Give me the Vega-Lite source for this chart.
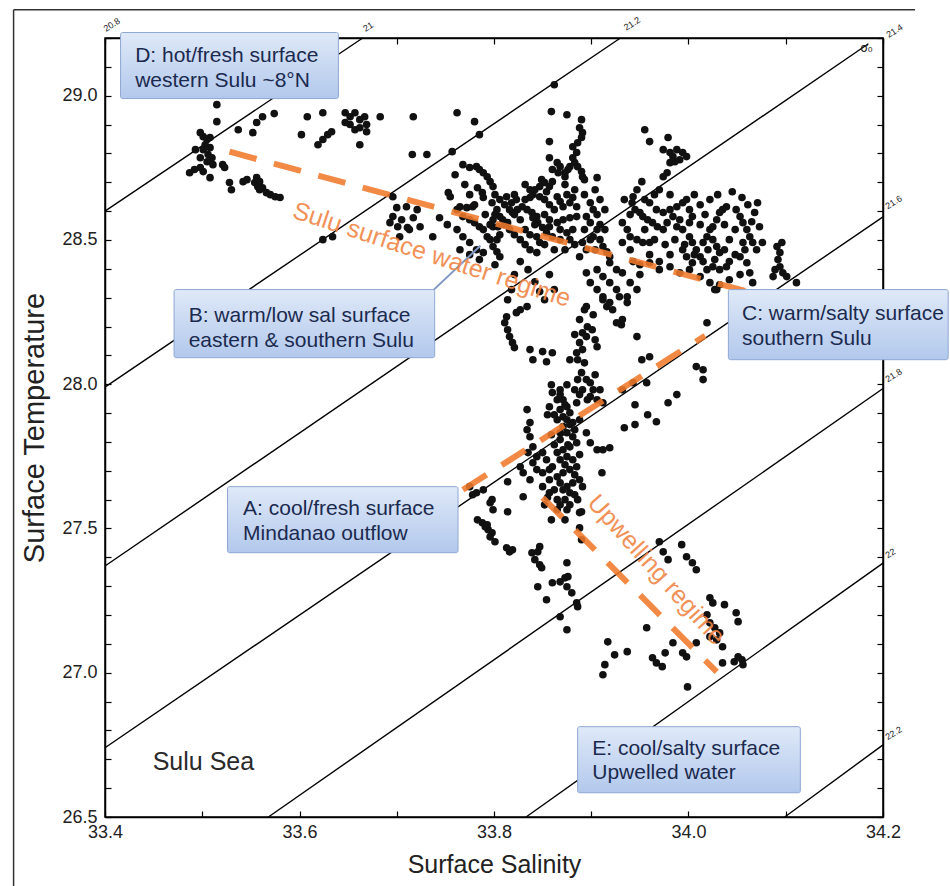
{
  "$schema": "https://vega.github.io/schema/vega-lite/v6.json",
  "width": 778,
  "height": 779,
  "autosize": "none",
  "padding": {"left": 105, "top": 38, "right": 67, "bottom": 69},
  "background": "white",
  "config": {"view": {"stroke": "black", "strokeWidth": 1.5}, "font": "Liberation Sans"},
  "datasets": {
    "iso": [
      {"sigma": 21.0, "s1": 33.4, "t1": 28.60, "s2": 33.665, "t2": 29.2},
      {"sigma": 21.2, "s1": 33.4, "t1": 27.99, "s2": 33.930, "t2": 29.2},
      {"sigma": 21.4, "s1": 33.4, "t1": 27.37, "s2": 34.185, "t2": 29.18},
      {"sigma": 21.6, "s1": 33.4, "t1": 26.74, "s2": 34.2, "t2": 28.58},
      {"sigma": 21.8, "s1": 33.568, "t1": 26.5, "s2": 34.2, "t2": 27.985},
      {"sigma": 22.0, "s1": 33.833, "t1": 26.5, "s2": 34.2, "t2": 27.38},
      {"sigma": 22.2, "s1": 34.099, "t1": 26.5, "s2": 34.2, "t2": 26.75}
    ],
    "isolabels": [
      {"s": 33.402, "t": 29.215, "label": "20.8"},
      {"s": 33.669, "t": 29.215, "label": "21"},
      {"s": 33.937, "t": 29.219, "label": "21.2"},
      {"s": 34.207, "t": 29.194, "label": "21.4"},
      {"s": 34.206, "t": 28.60, "label": "21.6"},
      {"s": 34.206, "t": 28.00, "label": "21.8"},
      {"s": 34.206, "t": 27.39, "label": "22"},
      {"s": 34.206, "t": 26.76, "label": "22.2"}
    ],
    "frame": [
      {"s1": 33.306, "t1": 29.298, "s2": 34.233, "t2": 29.298},
      {"s1": 33.306, "t1": 29.298, "s2": 33.306, "t2": 26.2}
    ],
    "regimes": [
      {"name": "Sulu surface water regime", "s1": 33.528, "t1": 28.806, "s2": 34.065, "t2": 28.317},
      {"name": "A to C", "s1": 33.768, "t1": 27.634, "s2": 34.017, "t2": 28.168},
      {"name": "Upwelling regime", "s1": 33.850, "t1": 27.607, "s2": 34.029, "t2": 27.003}
    ],
    "boxes": [
      {"id": "D", "s1": 33.416, "s2": 33.640, "t1": 29.219, "t2": 28.990},
      {"id": "B", "s1": 33.471, "s2": 33.739, "t1": 28.328, "t2": 28.092},
      {"id": "C", "s1": 34.041, "s2": 34.267, "t1": 28.328, "t2": 28.085},
      {"id": "A", "s1": 33.526, "s2": 33.763, "t1": 27.645, "t2": 27.416},
      {"id": "E", "s1": 33.886, "s2": 34.115, "t1": 26.813, "t2": 26.584}
    ],
    "boxtext": [
      {"s": 33.431, "t": 29.118, "text": "D: hot/fresh surface"},
      {"s": 33.431, "t": 29.031, "text": "western Sulu ~8°N"},
      {"s": 33.486, "t": 28.217, "text": "B: warm/low sal surface"},
      {"s": 33.486, "t": 28.130, "text": "eastern & southern Sulu"},
      {"s": 34.055, "t": 28.224, "text": "C: warm/salty surface"},
      {"s": 34.055, "t": 28.137, "text": "southern Sulu"},
      {"s": 33.542, "t": 27.548, "text": "A: cool/fresh surface"},
      {"s": 33.542, "t": 27.461, "text": "Mindanao outflow"},
      {"s": 33.901, "t": 26.715, "text": "E: cool/salty surface"},
      {"s": 33.901, "t": 26.632, "text": "Upwelled water"}
    ],
    "connector": [
      {"s1": 33.736, "t1": 28.321, "s2": 33.786, "t2": 28.480}
    ],
    "pts": [
      {"s":33.515,"t":28.969},{"s":33.515,"t":28.910},{"s":33.537,"t":28.882},{"s":33.552,"t":28.872},{"s":33.556,"t":28.907},{"s":33.562,"t":28.927},{"s":33.574,"t":28.938},
      {"s":33.498,"t":28.872},{"s":33.501,"t":28.858},{"s":33.505,"t":28.848},{"s":33.503,"t":28.830},{"s":33.508,"t":28.820},{"s":33.501,"t":28.813},{"s":33.506,"t":28.796},{"s":33.510,"t":28.785},{"s":33.498,"t":28.785},{"s":33.505,"t":28.771},{"s":33.511,"t":28.761},{"s":33.493,"t":28.813},{"s":33.508,"t":28.855},
      {"s":33.487,"t":28.733},{"s":33.492,"t":28.744},{"s":33.498,"t":28.751},{"s":33.501,"t":28.737},{"s":33.508,"t":28.716},{"s":33.521,"t":28.761},{"s":33.523,"t":28.751},{"s":33.528,"t":28.699},{"s":33.530,"t":28.674},{"s":33.542,"t":28.702},{"s":33.546,"t":28.709},
      {"s":33.554,"t":28.699},{"s":33.557,"t":28.685},{"s":33.559,"t":28.674},{"s":33.562,"t":28.681},{"s":33.566,"t":28.664},{"s":33.570,"t":28.657},{"s":33.575,"t":28.650},{"s":33.580,"t":28.647},{"s":33.556,"t":28.716},{"s":33.559,"t":28.702},
      {"s":33.602,"t":28.865},{"s":33.608,"t":28.927},{"s":33.624,"t":28.941},{"s":33.619,"t":28.830},{"s":33.624,"t":28.848},{"s":33.629,"t":28.865},{"s":33.633,"t":28.875},
      {"s":33.647,"t":28.941},{"s":33.652,"t":28.927},{"s":33.657,"t":28.941},{"s":33.662,"t":28.917},{"s":33.667,"t":28.927},{"s":33.669,"t":28.900},{"s":33.652,"t":28.900},{"s":33.657,"t":28.882},{"s":33.662,"t":28.889},{"s":33.647,"t":28.907},{"s":33.669,"t":28.875},
      {"s":33.662,"t":28.830},{"s":33.683,"t":28.927},{"s":33.717,"t":28.927},{"s":33.716,"t":28.796},{"s":33.731,"t":28.796},{"s":33.757,"t":28.806},{"s":33.762,"t":28.941},{"s":33.780,"t":28.910},{"s":33.785,"t":28.865},{"s":33.753,"t":28.664},{"s":33.696,"t":28.650},
      {"s":33.700,"t":28.612},{"s":33.710,"t":28.615},{"s":33.721,"t":28.605},{"s":33.696,"t":28.581},{"s":33.705,"t":28.570},{"s":33.717,"t":28.577},{"s":33.693,"t":28.560},{"s":33.701,"t":28.546},{"s":33.711,"t":28.543},{"s":33.724,"t":28.546},{"s":33.703,"t":28.511},{"s":33.713,"t":28.536},
      {"s":33.737,"t":28.511},{"s":33.744,"t":28.577},{"s":33.752,"t":28.553},{"s":33.634,"t":28.511},{"s":33.624,"t":28.501},{"s":33.765,"t":28.615},{"s":33.772,"t":28.612},{"s":33.778,"t":28.615},{"s":33.803,"t":28.501},{"s":33.799,"t":28.546},
      {"s":33.862,"t":29.038},{"s":33.859,"t":28.945},{"s":33.875,"t":28.934},{"s":33.890,"t":28.917},{"s":33.888,"t":28.889},{"s":33.891,"t":28.872},{"s":33.890,"t":28.855},{"s":33.886,"t":28.837},{"s":33.881,"t":28.823},{"s":33.885,"t":28.803},{"s":33.881,"t":28.785},{"s":33.883,"t":28.768},{"s":33.878,"t":28.754},{"s":33.876,"t":28.744},{"s":33.873,"t":28.733},{"s":33.886,"t":28.754},{"s":33.890,"t":28.737},
      {"s":33.857,"t":28.841},{"s":33.857,"t":28.785},{"s":33.865,"t":28.768},{"s":33.868,"t":28.754},{"s":33.860,"t":28.744},{"s":33.866,"t":28.733},{"s":33.873,"t":28.719},{"s":33.891,"t":28.719},{"s":33.893,"t":28.709},{"s":33.906,"t":28.716},
      {"s":33.768,"t":28.761},{"s":33.775,"t":28.751},{"s":33.782,"t":28.754},{"s":33.785,"t":28.744},{"s":33.789,"t":28.733},{"s":33.793,"t":28.719},{"s":33.796,"t":28.702},{"s":33.799,"t":28.685},{"s":33.783,"t":28.681},{"s":33.788,"t":28.664},{"s":33.789,"t":28.647},
      {"s":33.849,"t":28.709},{"s":33.852,"t":28.699},{"s":33.847,"t":28.685},{"s":33.842,"t":28.674},{"s":33.840,"t":28.657},{"s":33.837,"t":28.647},{"s":33.847,"t":28.650},{"s":33.854,"t":28.667},{"s":33.857,"t":28.685},{"s":33.860,"t":28.702},
      {"s":33.865,"t":28.650},{"s":33.868,"t":28.633},{"s":33.875,"t":28.657},{"s":33.881,"t":28.647},{"s":33.878,"t":28.629},{"s":33.885,"t":28.615},{"s":33.871,"t":28.615},{"s":33.899,"t":28.629},{"s":33.902,"t":28.605},{"s":33.906,"t":28.588},
      {"s":33.813,"t":28.650},{"s":33.818,"t":28.629},{"s":33.823,"t":28.640},{"s":33.829,"t":28.615},{"s":33.834,"t":28.605},{"s":33.839,"t":28.595},{"s":33.844,"t":28.581},{"s":33.824,"t":28.605},{"s":33.819,"t":28.595},
      {"s":33.798,"t":28.629},{"s":33.803,"t":28.605},{"s":33.806,"t":28.581},{"s":33.809,"t":28.570},{"s":33.814,"t":28.560},{"s":33.799,"t":28.570},{"s":33.804,"t":28.546},
      {"s":33.755,"t":28.650},{"s":33.762,"t":28.605},{"s":33.768,"t":28.581},{"s":33.775,"t":28.570},{"s":33.780,"t":28.560},{"s":33.785,"t":28.546},{"s":33.789,"t":28.536},{"s":33.793,"t":28.511},{"s":33.796,"t":28.501},{"s":33.799,"t":28.477},{"s":33.803,"t":28.459},{"s":33.806,"t":28.442},{"s":33.762,"t":28.536},{"s":33.768,"t":28.511},{"s":33.775,"t":28.491},{"s":33.782,"t":28.466},{"s":33.789,"t":28.456},
      {"s":33.840,"t":28.577},{"s":33.845,"t":28.560},{"s":33.850,"t":28.543},{"s":33.857,"t":28.546},{"s":33.865,"t":28.560},{"s":33.871,"t":28.570},{"s":33.878,"t":28.577},{"s":33.885,"t":28.581},{"s":33.854,"t":28.525},{"s":33.860,"t":28.511},{"s":33.868,"t":28.501},{"s":33.875,"t":28.525},{"s":33.881,"t":28.536},{"s":33.844,"t":28.511},{"s":33.847,"t":28.491},{"s":33.837,"t":28.466},{"s":33.844,"t":28.456},
      {"s":33.895,"t":28.581},{"s":33.899,"t":28.560},{"s":33.906,"t":28.536},{"s":33.902,"t":28.511},{"s":33.909,"t":28.501},{"s":33.912,"t":28.477},{"s":33.916,"t":28.459},{"s":33.919,"t":28.442},{"s":33.891,"t":28.491},{"s":33.895,"t":28.466},{"s":33.888,"t":28.442},
      {"s":33.919,"t":28.421},{"s":33.926,"t":28.397},{"s":33.932,"t":28.386},{"s":33.906,"t":28.397},{"s":33.912,"t":28.373},{"s":33.919,"t":28.352},{"s":33.926,"t":28.328},{"s":33.929,"t":28.303},{"s":33.937,"t":28.283},{"s":33.895,"t":28.386},{"s":33.899,"t":28.352},{"s":33.906,"t":28.328},{"s":33.912,"t":28.303},
      {"s":33.943,"t":28.425},{"s":33.950,"t":28.414},{"s":33.960,"t":28.421},{"s":33.970,"t":28.425},{"s":33.981,"t":28.407},{"s":33.991,"t":28.386},{"s":34.001,"t":28.397},{"s":34.012,"t":28.373},{"s":34.022,"t":28.352},{"s":34.029,"t":28.328},
      {"s":33.940,"t":28.352},{"s":33.947,"t":28.328},{"s":33.937,"t":28.303},{"s":33.960,"t":28.491},
      {"s":33.955,"t":28.882},{"s":33.960,"t":28.841},{"s":33.979,"t":28.855},{"s":33.974,"t":28.813},{"s":33.981,"t":28.803},{"s":33.984,"t":28.789},{"s":33.988,"t":28.813},{"s":33.994,"t":28.803},{"s":33.998,"t":28.789},{"s":33.991,"t":28.778},{"s":33.986,"t":28.771},{"s":33.981,"t":28.768},{"s":33.974,"t":28.719},{"s":33.978,"t":28.733},
      {"s":33.952,"t":28.702},{"s":33.947,"t":28.674},{"s":33.943,"t":28.650},{"s":33.942,"t":28.629},{"s":33.945,"t":28.605},{"s":33.950,"t":28.595},{"s":33.953,"t":28.581},{"s":33.958,"t":28.570},{"s":33.963,"t":28.560},{"s":33.968,"t":28.546},{"s":33.974,"t":28.536},
      {"s":33.932,"t":28.560},{"s":33.937,"t":28.536},{"s":33.940,"t":28.511},{"s":33.947,"t":28.501},{"s":33.953,"t":28.491},{"s":33.932,"t":28.491},{"s":33.940,"t":28.466},
      {"s":33.960,"t":28.629},{"s":33.967,"t":28.605},{"s":33.974,"t":28.595},{"s":33.981,"t":28.605},{"s":33.988,"t":28.615},{"s":33.994,"t":28.629},{"s":33.998,"t":28.640},{"s":33.984,"t":28.581},{"s":33.991,"t":28.570},{"s":33.978,"t":28.560},{"s":33.988,"t":28.546},{"s":33.994,"t":28.536},{"s":34.001,"t":28.560},{"s":34.004,"t":28.581},
      {"s":34.001,"t":28.511},{"s":34.004,"t":28.491},{"s":34.008,"t":28.466},{"s":34.012,"t":28.442},{"s":34.015,"t":28.425},{"s":34.004,"t":28.421},{"s":33.998,"t":28.442},{"s":33.994,"t":28.466},{"s":34.015,"t":28.491},{"s":34.019,"t":28.511},{"s":34.022,"t":28.536},{"s":34.025,"t":28.546},{"s":34.029,"t":28.570},{"s":34.032,"t":28.595},{"s":34.035,"t":28.605},{"s":34.025,"t":28.501},{"s":34.029,"t":28.477},{"s":34.032,"t":28.456},{"s":34.025,"t":28.407},{"s":34.032,"t":28.397},{"s":34.039,"t":28.407},{"s":34.042,"t":28.425},{"s":34.019,"t":28.397},
      {"s":34.045,"t":28.667},{"s":34.039,"t":28.615},{"s":34.049,"t":28.605},{"s":34.053,"t":28.581},{"s":34.056,"t":28.560},{"s":34.060,"t":28.536},{"s":34.063,"t":28.511},{"s":34.066,"t":28.491},{"s":34.070,"t":28.466},{"s":34.056,"t":28.491},{"s":34.053,"t":28.442},{"s":34.060,"t":28.421},{"s":34.063,"t":28.386},{"s":34.066,"t":28.352},{"s":34.065,"t":28.563},{"s":34.068,"t":28.595},{"s":34.071,"t":28.629},{"s":34.073,"t":28.546},{"s":34.076,"t":28.491},
      {"s":34.027,"t":28.328},{"s":34.091,"t":28.477},{"s":34.094,"t":28.456},{"s":34.092,"t":28.432},{"s":34.094,"t":28.407},{"s":34.097,"t":28.386},{"s":34.101,"t":28.373},{"s":34.111,"t":28.352},{"s":34.089,"t":28.397},{"s":34.087,"t":28.373},{"s":34.096,"t":28.491},
      {"s":33.827,"t":28.425},{"s":33.821,"t":28.380},{"s":33.818,"t":28.328},{"s":33.814,"t":28.293},{"s":33.835,"t":28.397},{"s":33.842,"t":28.355},{"s":33.847,"t":28.321},{"s":33.852,"t":28.293},{"s":33.857,"t":28.380},{"s":33.862,"t":28.328},
      {"s":33.813,"t":28.234},{"s":33.811,"t":28.213},{"s":33.814,"t":28.189},{"s":33.816,"t":28.165},{"s":33.819,"t":28.144},{"s":33.821,"t":28.127},{"s":33.823,"t":28.248},{"s":33.827,"t":28.258},{"s":33.834,"t":28.269},
      {"s":33.837,"t":28.120},{"s":33.850,"t":28.113},{"s":33.840,"t":28.085},{"s":33.854,"t":28.078},{"s":33.860,"t":28.109},
      {"s":33.895,"t":28.269},{"s":33.902,"t":28.241},{"s":33.896,"t":28.199},{"s":33.891,"t":28.178},{"s":33.895,"t":28.165},{"s":33.888,"t":28.144},{"s":33.891,"t":28.120},{"s":33.885,"t":28.109},{"s":33.878,"t":28.085},{"s":33.886,"t":28.085},{"s":33.893,"t":28.074},{"s":33.890,"t":28.040},{"s":33.895,"t":28.016},{"s":33.899,"t":28.005},{"s":33.902,"t":27.981},{"s":33.891,"t":27.981},{"s":33.899,"t":27.957},{"s":33.906,"t":27.946},{"s":33.912,"t":27.936},
      {"s":33.906,"t":28.130},{"s":33.912,"t":28.293},{"s":33.916,"t":28.269},{"s":33.919,"t":28.283},{"s":33.922,"t":28.258},{"s":33.926,"t":28.213},{"s":33.931,"t":28.206},{"s":33.932,"t":28.224},{"s":33.947,"t":28.165},{"s":33.952,"t":28.085},{"s":33.960,"t":28.095},{"s":34.008,"t":28.061},{"s":34.015,"t":28.050},{"s":34.015,"t":28.016},{"s":34.019,"t":28.213},{"s":33.988,"t":27.964},{"s":33.979,"t":27.936},{"s":33.932,"t":27.981},{"s":33.943,"t":28.005},{"s":33.957,"t":28.005},{"s":33.945,"t":27.929},{"s":33.958,"t":27.894},{"s":33.967,"t":27.870},{"s":33.945,"t":27.860},{"s":33.934,"t":27.849},
      {"s":33.868,"t":27.981},{"s":33.860,"t":27.971},{"s":33.865,"t":27.946},{"s":33.871,"t":27.946},{"s":33.857,"t":27.922},{"s":33.868,"t":27.912},{"s":33.875,"t":27.922},{"s":33.885,"t":27.936},{"s":33.878,"t":27.901},{"s":33.871,"t":27.887},{"s":33.865,"t":27.877},{"s":33.875,"t":27.877},{"s":33.881,"t":27.867},{"s":33.871,"t":27.853},{"s":33.868,"t":27.832},{"s":33.875,"t":27.832},{"s":33.881,"t":27.818},{"s":33.885,"t":27.797},{"s":33.878,"t":27.783},{"s":33.871,"t":27.773},{"s":33.865,"t":27.763},{"s":33.875,"t":27.749},{"s":33.881,"t":27.738},{"s":33.885,"t":27.714},{"s":33.878,"t":27.704},{"s":33.871,"t":27.693},{"s":33.865,"t":27.679},{"s":33.857,"t":27.669},{"s":33.868,"t":27.658},{"s":33.875,"t":27.645},{"s":33.881,"t":27.658},{"s":33.888,"t":27.669},
      {"s":33.860,"t":27.714},{"s":33.854,"t":27.738},{"s":33.850,"t":27.763},{"s":33.844,"t":27.749},{"s":33.840,"t":27.728},{"s":33.844,"t":27.704},{"s":33.850,"t":27.693},{"s":33.834,"t":27.912},{"s":33.837,"t":27.867},{"s":33.834,"t":27.842},{"s":33.837,"t":27.818},{"s":33.840,"t":27.783},{"s":33.835,"t":27.763},{"s":33.827,"t":27.714},{"s":33.830,"t":27.693},{"s":33.837,"t":27.669},{"s":33.830,"t":27.610},{"s":33.850,"t":27.645},{"s":33.857,"t":27.624},{"s":33.865,"t":27.600},{"s":33.871,"t":27.634},{"s":33.878,"t":27.624},
      {"s":33.868,"t":27.964},{"s":33.873,"t":27.929},{"s":33.862,"t":27.894},{"s":33.878,"t":27.860},{"s":33.868,"t":27.808},{"s":33.876,"t":27.790},{"s":33.862,"t":27.790},{"s":33.868,"t":27.738},{"s":33.873,"t":27.721},{"s":33.883,"t":27.686},{"s":33.862,"t":27.634},{"s":33.873,"t":27.600},{"s":33.878,"t":27.582},{"s":33.868,"t":27.582},{"s":33.855,"t":27.607},{"s":33.883,"t":27.617},
      {"s":33.895,"t":27.832},{"s":33.899,"t":27.797},{"s":33.906,"t":27.773},{"s":33.912,"t":27.773},{"s":33.919,"t":27.780},{"s":33.911,"t":27.693},{"s":33.891,"t":27.645},{"s":33.814,"t":27.662},{"s":33.775,"t":27.645},{"s":33.782,"t":27.624},{"s":33.789,"t":27.634},{"s":33.796,"t":27.589},{"s":33.799,"t":27.565},{"s":33.814,"t":27.558},{"s":33.796,"t":27.471},{"s":33.847,"t":27.437},{"s":33.888,"t":27.555},{"s":33.875,"t":27.565},
      {"s":33.778,"t":27.617},{"s":33.798,"t":27.600},{"s":33.783,"t":27.530},{"s":33.788,"t":27.520},{"s":33.791,"t":27.506},{"s":33.794,"t":27.496},{"s":33.798,"t":27.485},{"s":33.801,"t":27.454},{"s":33.793,"t":27.513},
      {"s":33.813,"t":27.433},{"s":33.816,"t":27.419},{"s":33.819,"t":27.426},{"s":33.839,"t":27.416},{"s":33.842,"t":27.392},{"s":33.845,"t":27.419},{"s":33.847,"t":27.374},{"s":33.849,"t":27.364},{"s":33.845,"t":27.298},{"s":33.854,"t":27.253},{"s":33.860,"t":27.312},{"s":33.868,"t":27.315},{"s":33.873,"t":27.329},{"s":33.875,"t":27.298},{"s":33.876,"t":27.333},{"s":33.875,"t":27.381},{"s":33.880,"t":27.277},{"s":33.885,"t":27.242},{"s":33.886,"t":27.229},{"s":33.868,"t":27.194},{"s":33.875,"t":27.149},{"s":33.890,"t":27.558},{"s":33.888,"t":27.502},{"s":33.890,"t":27.461},
      {"s":33.917,"t":27.107},{"s":33.924,"t":27.062},{"s":33.937,"t":27.073},{"s":33.914,"t":27.028},{"s":33.912,"t":26.993},{"s":33.957,"t":27.156},
      {"s":33.970,"t":27.454},{"s":33.974,"t":27.419},{"s":33.979,"t":27.392},{"s":33.993,"t":27.444},{"s":33.998,"t":27.402},{"s":34.004,"t":27.381},{"s":34.008,"t":27.357},
      {"s":33.963,"t":27.052},{"s":33.967,"t":27.034},{"s":33.973,"t":27.021},{"s":33.976,"t":27.069},{"s":33.984,"t":27.104},{"s":33.994,"t":27.069},{"s":33.998,"t":27.055},{"s":34.008,"t":27.104},
      {"s":34.022,"t":27.260},{"s":34.025,"t":27.242},{"s":34.037,"t":27.236},{"s":34.019,"t":27.201},{"s":34.022,"t":27.173},{"s":34.027,"t":27.156},{"s":34.032,"t":27.138},{"s":34.035,"t":27.090},{"s":34.049,"t":27.208},{"s":34.051,"t":27.177},{"s":34.029,"t":27.114},{"s":34.022,"t":27.125},
      {"s":34.035,"t":27.034},{"s":34.047,"t":27.038},{"s":34.051,"t":27.055},{"s":34.055,"t":27.045},{"s":34.056,"t":27.028},{"s":33.999,"t":26.951},
      {"s":33.801,"t":28.657},{"s":33.806,"t":28.640},{"s":33.811,"t":28.622},{"s":33.816,"t":28.605},{"s":33.821,"t":28.588},{"s":33.811,"t":28.553},{"s":33.816,"t":28.536},{"s":33.821,"t":28.518},{"s":33.827,"t":28.501},{"s":33.806,"t":28.518},{"s":33.801,"t":28.588},{"s":33.821,"t":28.657},{"s":33.827,"t":28.570},{"s":33.832,"t":28.536},{"s":33.832,"t":28.484},
      {"s":33.832,"t":28.692},{"s":33.837,"t":28.674},{"s":33.852,"t":28.640},{"s":33.857,"t":28.622},{"s":33.862,"t":28.605},{"s":33.852,"t":28.588},{"s":33.857,"t":28.570},{"s":33.842,"t":28.553},{"s":33.837,"t":28.518},{"s":33.852,"t":28.484},{"s":33.862,"t":28.466},{"s":33.868,"t":28.536},{"s":33.832,"t":28.640},
      {"s":33.873,"t":28.692},{"s":33.883,"t":28.674},{"s":33.893,"t":28.657},{"s":33.904,"t":28.674},{"s":33.909,"t":28.640},{"s":33.914,"t":28.605},{"s":33.909,"t":28.553},{"s":33.899,"t":28.501},{"s":33.883,"t":28.484},{"s":33.873,"t":28.466},{"s":33.893,"t":28.536},{"s":33.878,"t":28.501},{"s":33.914,"t":28.536},{"s":33.904,"t":28.466},
      {"s":33.934,"t":28.640},{"s":33.940,"t":28.588},{"s":33.955,"t":28.640},{"s":33.965,"t":28.657},{"s":33.970,"t":28.674},{"s":33.981,"t":28.657},{"s":34.001,"t":28.605},{"s":34.006,"t":28.657},{"s":34.012,"t":28.622},{"s":34.017,"t":28.588},{"s":33.955,"t":28.536},{"s":33.965,"t":28.501},{"s":33.976,"t":28.484},{"s":33.986,"t":28.501},{"s":33.996,"t":28.484},{"s":34.006,"t":28.449},{"s":33.960,"t":28.449},{"s":33.981,"t":28.449},{"s":33.970,"t":28.397},{"s":33.950,"t":28.380},
      {"s":34.012,"t":28.553},{"s":34.020,"t":28.466},{"s":34.027,"t":28.432},{"s":34.037,"t":28.466},{"s":34.042,"t":28.501},{"s":34.048,"t":28.536},{"s":34.037,"t":28.553},{"s":34.042,"t":28.362},{"s":34.032,"t":28.345},{"s":34.053,"t":28.380},{"s":34.058,"t":28.466},{"s":34.048,"t":28.449},{"s":34.022,"t":28.640},{"s":34.030,"t":28.657},{"s":34.055,"t":28.647},{"s":34.061,"t":28.622},
      {"s":33.859,"t":27.998},{"s":33.875,"t":27.998},{"s":33.883,"t":27.981},{"s":33.855,"t":27.894},{"s":33.888,"t":27.877},{"s":33.883,"t":27.842},{"s":33.859,"t":27.825},{"s":33.888,"t":27.756},{"s":33.857,"t":27.704},{"s":33.886,"t":27.600},{"s":33.865,"t":27.565},{"s":33.852,"t":27.582},{"s":33.859,"t":27.530},{"s":33.873,"t":27.530},
      {"s":33.901,"t":28.189},{"s":33.904,"t":28.154},{"s":33.888,"t":28.224},{"s":33.883,"t":28.172},{"s":33.893,"t":28.258},{"s":33.886,"t":28.016},{"s":33.904,"t":28.033},{"s":33.909,"t":27.981},{"s":33.896,"t":27.946},{"s":33.888,"t":27.964},
      {"s":33.760,"t":28.726},{"s":33.770,"t":28.692},{"s":33.775,"t":28.657},{"s":33.780,"t":28.622},{"s":33.791,"t":28.588},{"s":33.796,"t":28.553},{"s":33.765,"t":28.466},{"s":33.775,"t":28.449},{"s":33.785,"t":28.432},{"s":33.801,"t":28.414}
    ]
  },
  "layer": [
    {
      "data": {"name": "frame"},
      "mark": {"type": "rule", "color": "#333333", "strokeWidth": 1.5},
      "encoding": {
        "x": {"field": "s1", "type": "quantitative", "scale": {"domain": [33.4, 34.2], "nice": false, "zero": false}, "axis": null},
        "y": {"field": "t1", "type": "quantitative", "scale": {"domain": [26.5, 29.2], "nice": false, "zero": false}, "axis": null},
        "x2": {"field": "s2"},
        "y2": {"field": "t2"}
      }
    },
    {
      "data": {"name": "iso"},
      "mark": {"type": "rule", "color": "black", "strokeWidth": 1.4},
      "encoding": {
        "x": {"field": "s1", "type": "quantitative",
          "axis": {"orient": "top", "values": [33.4,33.5,33.6,33.7,33.8,33.9,34.0,34.1,34.2], "labels": false, "title": null, "tickSize": -6, "tickColor": "black", "tickWidth": 1.2, "domainColor": "black", "domainWidth": 1.5, "grid": false}},
        "y": {"field": "t1", "type": "quantitative",
          "axis": {"orient": "right", "values": [26.5,26.6,26.7,26.8,26.9,27.0,27.1,27.2,27.3,27.4,27.5,27.6,27.7,27.8,27.9,28.0,28.1,28.2,28.3,28.4,28.5,28.6,28.7,28.8,28.9,29.0,29.1,29.2], "labels": false, "title": null, "tickSize": -6, "tickColor": "black", "tickWidth": 1.2, "domainColor": "black", "domainWidth": 1.5, "grid": false}},
        "x2": {"field": "s2"},
        "y2": {"field": "t2"}
      }
    },
    {
      "data": {"name": "pts"},
      "mark": {"type": "point", "filled": true, "shape": "circle", "size": 58, "color": "#111111", "opacity": 1},
      "encoding": {
        "x": {"field": "s", "type": "quantitative",
          "axis": {"orient": "bottom", "title": "Surface Salinity", "values": [33.4,33.5,33.6,33.7,33.8,33.9,34.0,34.1,34.2],
            "labelExpr": "round(datum.value*10) % 2 == 0 ? format(datum.value, '.1f') : ''",
            "tickSize": -6, "tickColor": "black", "tickWidth": 1.2, "domainColor": "black", "domainWidth": 1.5, "grid": false,
            "labelFont": "Liberation Sans", "labelFontSize": 18, "labelColor": "#222222", "labelPadding": 12, "labelFlush": false, "labelOverlap": false,
            "titleFont": "Liberation Sans", "titleFontSize": 25, "titleFontWeight": "normal", "titleColor": "#222222", "titlePadding": 11}},
        "y": {"field": "t", "type": "quantitative",
          "axis": {"orient": "left", "title": "Surface Temperature", "values": [26.5,26.6,26.7,26.8,26.9,27.0,27.1,27.2,27.3,27.4,27.5,27.6,27.7,27.8,27.9,28.0,28.1,28.2,28.3,28.4,28.5,28.6,28.7,28.8,28.9,29.0,29.1,29.2],
            "labelExpr": "round(datum.value*10) % 5 == 0 ? format(datum.value, '.1f') : ''",
            "tickSize": -6, "tickColor": "black", "tickWidth": 1.2, "domainColor": "black", "domainWidth": 1.5, "grid": false,
            "labelFont": "Liberation Sans", "labelFontSize": 18, "labelColor": "#222222", "labelPadding": 14, "labelOverlap": false, "labelFlush": false,
            "titleFont": "Liberation Sans", "titleFontSize": 29, "titleFontWeight": "normal", "titleColor": "#222222", "titlePadding": 12}}
      }
    },
    {
      "data": {"name": "regimes"},
      "mark": {"type": "rule", "color": "#f07a2c", "strokeWidth": 6, "strokeDash": [28, 18], "opacity": 0.88, "strokeCap": "butt"},
      "encoding": {
        "x": {"field": "s1", "type": "quantitative", "axis": null},
        "y": {"field": "t1", "type": "quantitative", "axis": null},
        "x2": {"field": "s2"},
        "y2": {"field": "t2"}
      }
    },
    {
      "data": {"name": "connector"},
      "mark": {"type": "rule", "color": "#7f97c4", "strokeWidth": 2},
      "encoding": {
        "x": {"field": "s1", "type": "quantitative", "axis": null},
        "y": {"field": "t1", "type": "quantitative", "axis": null},
        "x2": {"field": "s2"},
        "y2": {"field": "t2"}
      }
    },
    {
      "data": {"name": "boxes"},
      "mark": {"type": "rect", "stroke": "#8fa8d2", "strokeWidth": 1, "cornerRadius": 2,
        "fill": {"gradient": "linear", "x1": 0, "y1": 0, "x2": 0, "y2": 1, "stops": [{"offset": 0, "color": "#dfe9f8"}, {"offset": 1, "color": "#b2c8ec"}]}},
      "encoding": {
        "x": {"field": "s1", "type": "quantitative", "axis": null},
        "x2": {"field": "s2"},
        "y": {"field": "t1", "type": "quantitative", "axis": null},
        "y2": {"field": "t2"}
      }
    },
    {
      "data": {"name": "boxtext"},
      "mark": {"type": "text", "align": "left", "baseline": "alphabetic", "font": "Liberation Sans", "fontSize": 21, "color": "#1b2a4e"},
      "encoding": {
        "x": {"field": "s", "type": "quantitative", "axis": null},
        "y": {"field": "t", "type": "quantitative", "axis": null},
        "text": {"field": "text"}
      }
    },
    {
      "data": {"values": [{"s": 33.449, "t": 26.663, "text": "Sulu Sea"}]},
      "mark": {"type": "text", "align": "left", "baseline": "alphabetic", "font": "Liberation Sans", "fontSize": 25, "color": "#2a2a2a"},
      "encoding": {
        "x": {"field": "s", "type": "quantitative", "axis": null},
        "y": {"field": "t", "type": "quantitative", "axis": null},
        "text": {"field": "text"}
      }
    },
    {
      "data": {"values": [{"s": 33.736, "t": 28.449, "text": "Sulu surface water regime"}]},
      "mark": {"type": "text", "align": "center", "baseline": "middle", "angle": 18, "font": "Liberation Sans", "fontSize": 25, "color": "#f08646", "opacity": 0.9},
      "encoding": {
        "x": {"field": "s", "type": "quantitative", "axis": null},
        "y": {"field": "t", "type": "quantitative", "axis": null},
        "text": {"field": "text"}
      }
    },
    {
      "data": {"values": [{"s": 33.967, "t": 27.357, "text": "Upwelling regime"}]},
      "mark": {"type": "text", "align": "center", "baseline": "middle", "angle": 48, "font": "Liberation Sans", "fontSize": 25, "color": "#f08646", "opacity": 0.9},
      "encoding": {
        "x": {"field": "s", "type": "quantitative", "axis": null},
        "y": {"field": "t", "type": "quantitative", "axis": null},
        "text": {"field": "text"}
      }
    },
    {
      "data": {"name": "isolabels"},
      "mark": {"type": "text", "align": "left", "baseline": "bottom", "angle": -32, "font": "Liberation Sans", "fontSize": 9, "color": "#222222"},
      "encoding": {
        "x": {"field": "s", "type": "quantitative", "axis": null},
        "y": {"field": "t", "type": "quantitative", "axis": null},
        "text": {"field": "label"}
      }
    },
    {
      "data": {"values": [{"s": 34.183, "t": 29.165, "text": "σ₀"}]},
      "mark": {"type": "text", "align": "center", "baseline": "middle", "font": "DejaVu Sans", "fontSize": 12, "color": "#222222"},
      "encoding": {
        "x": {"field": "s", "type": "quantitative", "axis": null},
        "y": {"field": "t", "type": "quantitative", "axis": null},
        "text": {"field": "text"}
      }
    }
  ],
  "resolve": {"axis": {"x": "independent", "y": "independent"}}
}
